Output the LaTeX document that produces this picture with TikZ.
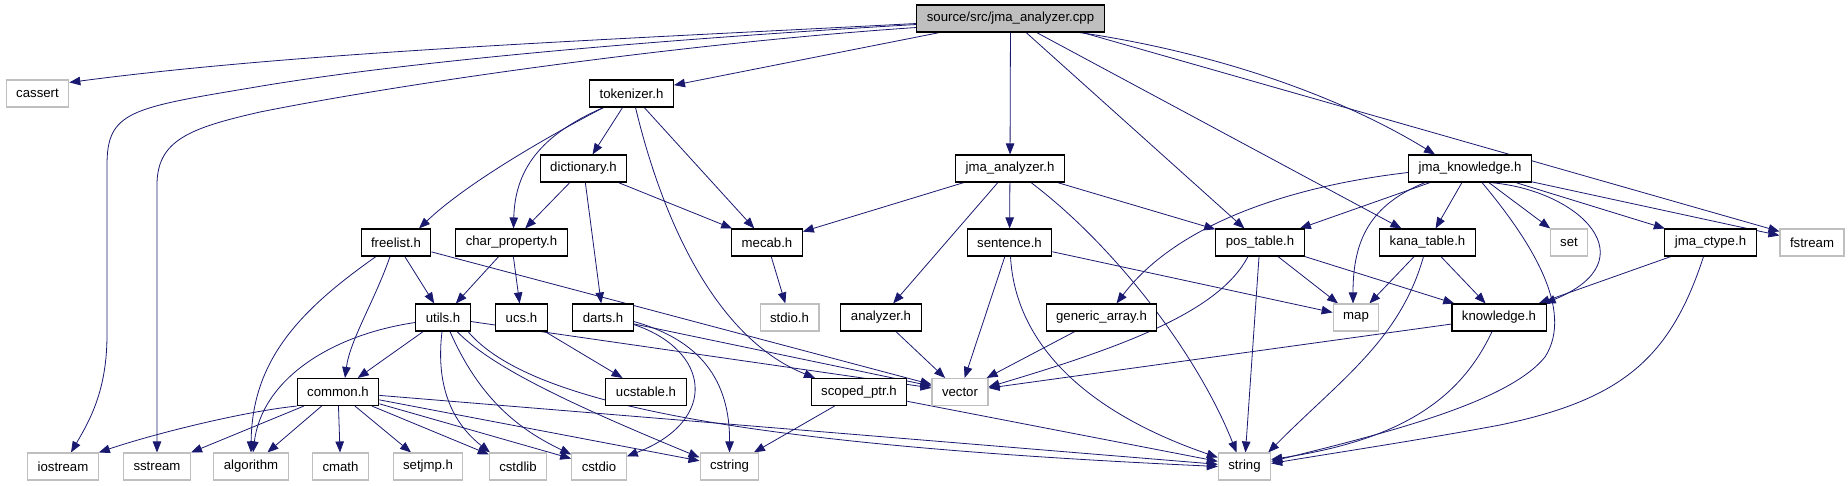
\documentclass[tikz,border=0pt]{standalone}
\usepackage{fontspec}
\setmainfont{Liberation Sans}
\usepackage{xcolor}
\usepackage{tikz}
\usetikzlibrary{arrows.meta, backgrounds}
\definecolor{edgeblue}{RGB}{25,25,112}
\definecolor{sysgray}{RGB}{191,191,191}

\begin{document}
\begin{tikzpicture}[x=1pt,y=-1pt,
  font=\fontsize{13.2}{15}\selectfont,
  hdr/.style={draw=black,line width=1.1pt,fill=white,
              minimum height=27pt,inner xsep=10pt,inner ysep=0pt},
  sys/.style={hdr,draw=sysgray},
  top/.style={hdr,fill=sysgray},
  arr/.style={-{Triangle[length=11pt,width=8.5pt]},line width=0.8pt,color=edgeblue}
]
  \useasboundingbox (0,0) rectangle (1848,485);
  \node[top] (root) at (1010.5,18.5) {source/src/jma\_analyzer.cpp};
  \node[sys] (cassert) at (37.5,93.5) {cassert};
  \node[hdr] (tok) at (631.5,93.5) {tokenizer.h};
  \node[hdr] (dict) at (583.5,168.5) {dictionary.h};
  \node[hdr] (janl) at (1010,168.5) {jma\_analyzer.h};
  \node[hdr] (jknow) at (1470,168.5) {jma\_knowledge.h};
  \node[hdr] (freelist) at (396,242.5) {freelist.h};
  \node[hdr] (cprop) at (511.5,242.5) {char\_property.h};
  \node[hdr] (mecab) at (767,242.5) {mecab.h};
  \node[hdr] (sent) at (1009.5,242.5) {sentence.h};
  \node[hdr] (postab) at (1260,242.5) {pos\_table.h};
  \node[hdr] (kana) at (1427.5,242.5) {kana\_table.h};
  \node[sys] (set) at (1569,242.5) {set};
  \node[hdr] (jctype) at (1710.5,242.5) {jma\_ctype.h};
  \node[sys] (fstream) at (1812,242.5) {fstream};
  \node[hdr] (utils) at (443,317.5) {utils.h};
  \node[hdr] (ucs) at (521.5,317.5) {ucs.h};
  \node[hdr] (darts) at (603,317.5) {darts.h};
  \node[sys] (stdio) at (789.5,317.5) {stdio.h};
  \node[hdr] (analyzer) at (881,317.5) {analyzer.h};
  \node[hdr] (garray) at (1101.5,317.5) {generic\_array.h};
  \node[sys] (map) at (1356,317.5) {map};
  \node[hdr] (knowl) at (1499,317.5) {knowledge.h};
  \node[hdr] (common) at (338,392) {common.h};
  \node[hdr] (ucstable) at (646,392) {ucstable.h};
  \node[hdr] (scoped) at (859,392) {scoped\_ptr.h};
  \node[sys] (vector) at (960,392) {vector};
  \node[sys] (iostream) at (63,466.5) {iostream};
  \node[sys] (sstream) at (157,466.5) {sstream};
  \node[sys] (algorithm) at (251,466.5) {algorithm};
  \node[sys] (cmath) at (340.5,466.5) {cmath};
  \node[sys] (setjmp) at (428,466.5) {setjmp.h};
  \node[sys] (cstdlib) at (518,466.5) {cstdlib};
  \node[sys] (cstdio) at (599,466.5) {cstdio};
  \node[sys] (cstring) at (729.5,466.5) {cstring};
  \node[sys] (string) at (1244.5,466.5) {string};

  \begin{scope}[on background layer]
  \foreach \a/\b in {root/tok,root/janl,root/postab,root/kana,
      tok/dict,tok/mecab,dict/cprop,dict/mecab,dict/darts,
      freelist/utils,freelist/vector,cprop/utils,cprop/ucs,
      utils/common,utils/vector,ucs/ucstable,darts/vector,mecab/stdio,
      janl/mecab,janl/analyzer,janl/sent,janl/postab,
      sent/vector,sent/map,analyzer/vector,garray/vector,
      scoped/cstring,scoped/string,postab/map,postab/string,postab/knowl,
      kana/map,kana/knowl,knowl/vector,
      jknow/postab,jknow/kana,jknow/set,jknow/jctype,jknow/fstream,jctype/knowl,
      common/sstream,common/algorithm,common/cmath,common/setjmp,
      common/cstdlib,common/cstdio,common/cstring,common/string}
    \draw[arr] (\a)--(\b);

  \draw[arr] ([yshift=-5pt]root.west) .. controls (600,40) and (300,52) .. ([yshift=-3pt]cassert.north east);
  \draw[arr] ([yshift=-6pt]root.west) .. controls (650,40) and (400,62) .. (250,88)
    .. controls (130,108) and (107,112) .. (107,165) -- (107,335)
    .. controls (107,390) and (90,420) .. ([xshift=8pt]iostream.north);
  \draw[arr] ([yshift=-9pt]root.west) .. controls (700,42) and (420,80) .. (260,112)
    .. controls (190,128) and (157,140) .. (157,185) -- (sstream.north);
  \draw[arr] ([xshift=69pt]root.south) .. controls (1200,50) and (1330,90) .. ([xshift=-35pt]jknow.north);
  \draw[arr] ([xshift=72pt]root.south) -- ([yshift=-3pt]fstream.north west);

  \draw[arr] ([xshift=-28pt]tok.south) .. controls (560,130) and (470,180) .. ([xshift=23pt]freelist.north);
  \draw[arr] ([xshift=-28pt]tok.south) .. controls (540,135) and (515,170) .. ([xshift=2pt]cprop.north);
  \draw[arr] ([xshift=4pt]tok.south) .. controls (665,230) and (720,340) .. ([xshift=-44pt]scoped.north);

  \draw[arr] ([xshift=-6pt]freelist.south) .. controls (375,300) and (350,340) .. ([xshift=7pt]common.north);
  \draw[arr] ([xshift=-20pt]freelist.south) .. controls (300,310) and (252,360) .. (algorithm.north);
  \draw[arr] ([yshift=-5pt]utils.west) .. controls (330,335) and (262,380) .. ([xshift=2pt]algorithm.north);
  \draw[arr] ([xshift=-1pt]utils.south) .. controls (435,390) and (455,425) .. ([xshift=-28pt]cstdlib.north);
  \draw[arr] ([xshift=7pt]utils.south) .. controls (480,400) and (520,430) .. ([yshift=-2pt]cstdio.north west);
  \draw[arr] ([xshift=14pt]utils.south) .. controls (490,365) and (560,400) .. ([yshift=-5pt]cstring.north west);
  \draw[arr] ([xshift=25pt]utils.south) .. controls (530,405) and (750,445) .. (string.west);
  \draw[arr] (common.south west) .. controls (240,412) and (150,435) .. (iostream.north east);

  \draw[arr] ([yshift=-7pt]darts.east) .. controls (710,350) and (720,420) .. ([yshift=-4pt]cstdio.north east);
  \draw[arr] ([yshift=-4pt]darts.east) .. controls (700,340) and (730,380) .. (cstring.north);

  \draw[arr] ([xshift=21pt]janl.south) .. controls (1120,250) and (1200,360) .. ([xshift=-8pt]string.north);
  \draw[arr] ([xshift=1pt]sent.south) .. controls (1015,340) and (1080,410) .. ([yshift=-5pt]string.north west);
  \draw[arr] ([xshift=-12pt]postab.south) .. controls (1220,310) and (1130,345) .. ([yshift=5pt]vector.east);
  \draw[arr] ([xshift=-4pt]kana.south) .. controls (1400,340) and (1340,380) .. ([xshift=-3pt]string.north east);
  \draw[arr] ([xshift=-7pt]knowl.south) .. controls (1460,400) and (1400,440) .. ([yshift=-7pt]string.north east);

  \draw[arr] ([yshift=-4pt]jknow.west) .. controls (1300,185) and (1180,220) .. ([xshift=15pt]garray.north);
  \draw[arr] ([xshift=-45pt]jknow.south) .. controls (1370,205) and (1353,240) .. ([xshift=-3pt]map.north);
  \draw[arr] ([xshift=12pt]jknow.south) .. controls (1530,240) and (1575,310) .. (1545,357)
    .. controls (1510,400) and (1400,430) .. ([yshift=-9pt]string.north east);
  \draw[arr] ([xshift=20pt]jknow.south) .. controls (1580,190) and (1650,260) .. ([xshift=-2pt]knowl.north east);
  \draw[arr] ([xshift=-7pt]jctype.south) .. controls (1670,360) and (1620,400) .. (1500,425)
    .. controls (1420,440) and (1340,452) .. ([yshift=-11pt]string.north east);
  \end{scope}
\end{tikzpicture}
\end{document}
